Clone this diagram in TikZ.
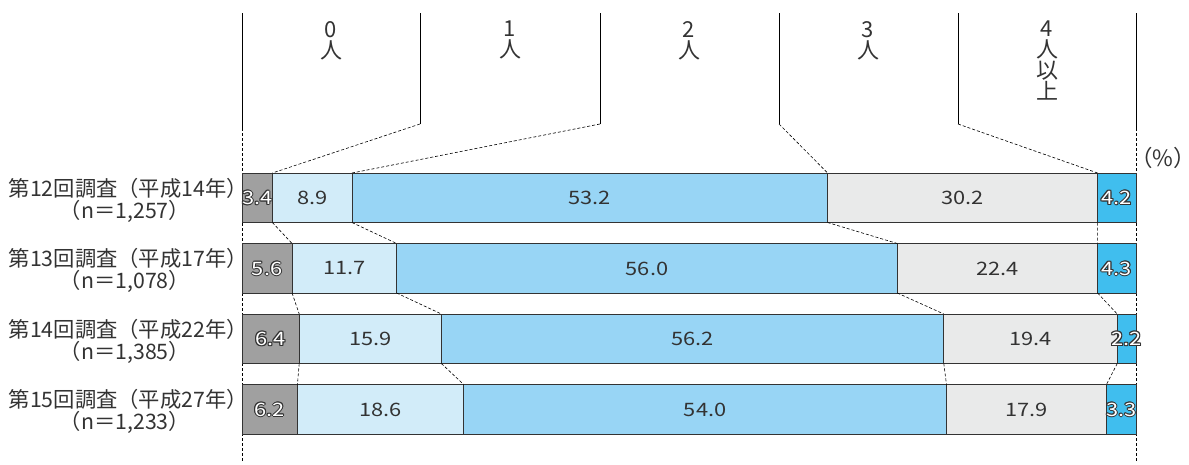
\documentclass[tikz,border=0pt]{standalone}
\usepackage{fontspec}
\setmainfont{Noto Sans CJK JP}
\newfontfamily\numfont[FakeStretch=1.18]{Noto Sans CJK JP}
\definecolor{cnone}{HTML}{A0A0A0}
\definecolor{cone}{HTML}{D2ECF9}
\definecolor{ctwo}{HTML}{98D5F5}
\definecolor{cthree}{HTML}{E9EAEA}
\definecolor{cfour}{HTML}{40BEEE}
\definecolor{ink}{HTML}{333333}
\newcommand\oshift[3]{\rlap{\kern#1\raisebox{#2}{\textcolor{ink}{#3}}}}
\newcommand\outnum[1]{\leavevmode
	\oshift{-1pt}{0pt}{#1}\oshift{1pt}{0pt}{#1}\oshift{0pt}{1pt}{#1}\oshift{0pt}{-1pt}{#1}%
	\oshift{-0.7pt}{0.7pt}{#1}\oshift{0.7pt}{0.7pt}{#1}\oshift{-0.7pt}{-0.7pt}{#1}\oshift{0.7pt}{-0.7pt}{#1}%
	\textcolor{white}{#1}}

\begin{document}
\begin{tikzpicture}[x=1pt,y=-1pt]
	\tikzstyle{every node}+=[inner sep=0pt]
	\tikzstyle{seg}=[draw=ink, line width=0.8pt]
	\tikzstyle{guide}=[black, line width=0.8pt]
	\tikzstyle{link}=[black, line width=0.6pt, dash pattern=on 3pt off 2pt]
	\tikzstyle{num}=[text=ink, font=\numfont\fontsize{18.5}{20}\selectfont]
	\tikzstyle{lbl}=[text=ink, font=\fontsize{21.3}{23}\selectfont]
	\tikzstyle{head}=[text=ink, anchor=north, align=center, font=\fontsize{22}{21}\selectfont]
	\useasboundingbox (0,0) rectangle (1189,464);
	% column heads
	\draw [guide] (242,13) -- (242,128);
	\draw [guide] (1136,13) -- (1136,128);
	\draw [guide] (420,13) -- (420,124) coordinate (g1);
	\draw [guide] (600,13) -- (600,124) coordinate (g2);
	\draw [guide] (779,13) -- (779,124) coordinate (g3);
	\draw [guide] (958,13) -- (958,124) coordinate (g4);
	\coordinate (lt) at (242,128);
	\coordinate (lb) at (242,462);
	\coordinate (rt) at (1136,128);
	\coordinate (rb) at (1136,462);
	\draw [link] (lt) -- (lb);
	\draw [link] (rt) -- (rb);
	\node [head] (h0) at (331,21) {0\\人};
	\node [head] (h1) at (510,21) {1\\人};
	\node [head] (h2) at (689,21) {2\\人};
	\node [head] (h3) at (868,21) {3\\人};
	\node [head] (h4) at (1047,21) {4\\人\\以\\上};
	\node [lbl, anchor=west, font=\fontsize{22.5}{24}\selectfont] (pct) at (1130,158) {（\%）\kern-0.5em};
	% bars
	\foreach \r/\ytop/\va/\vb/\vc/\vd/\ve in {1/173/3.4/8.9/53.2/30.2/4.2,
		2/243.5/5.6/11.7/56.0/22.4/4.3, 3/314/6.4/15.9/56.2/19.4/2.2,
		4/384.5/6.2/18.6/54.0/17.9/3.3} {
		\pgfmathsetmacro\ybot{\ytop+49.5}
		\pgfmathsetmacro\ymid{\ytop+25}
		\pgfmathsetmacro\xqa{242+\va*8.94}
		\pgfmathsetmacro\xqb{\xqa+\vb*8.94}
		\pgfmathsetmacro\xqc{\xqb+\vc*8.94}
		\pgfmathsetmacro\xqd{\xqc+\vd*8.94}
		\draw [seg, fill=cnone] (242,\ytop) rectangle (\xqa,\ybot);
		\draw [seg, fill=cone] (\xqa,\ytop) rectangle (\xqb,\ybot);
		\draw [seg, fill=ctwo] (\xqb,\ytop) rectangle (\xqc,\ybot);
		\draw [seg, fill=cthree] (\xqc,\ytop) rectangle (\xqd,\ybot);
		\draw [seg, fill=cfour] (\xqd,\ytop) rectangle (1136,\ybot);
		\node [num] (v\r-0) at ({(242+\xqa)/2},\ymid) {\outnum{\va}};
		\node [num] (v\r-1) at ({(\xqa+\xqb)/2},\ymid) {\vb};
		\node [num] (v\r-2) at ({(\xqb+\xqc)/2},\ymid) {\vc};
		\node [num] (v\r-3) at ({(\xqc+\xqd)/2},\ymid) {\vd};
		\node [num] (v\r-4) at ({(\xqd+1136)/2},\ymid) {\outnum{\ve}};
		\coordinate (p\r-1-t) at (\xqa,\ytop);
		\coordinate (p\r-1-b) at (\xqa,\ybot);
		\coordinate (p\r-2-t) at (\xqb,\ytop);
		\coordinate (p\r-2-b) at (\xqb,\ybot);
		\coordinate (p\r-3-t) at (\xqc,\ytop);
		\coordinate (p\r-3-b) at (\xqc,\ybot);
		\coordinate (p\r-4-t) at (\xqd,\ytop);
		\coordinate (p\r-4-b) at (\xqd,\ybot);
	}
	% row titles
	\foreach \r/\ytop/\k/\yr/\nval in {1/173/12/14/{1,257}, 2/243.5/13/17/{1,078},
		3/314/14/22/{1,385}, 4/384.5/15/27/{1,233}} {
		\node [lbl, anchor=east] (t\r) at (234,\ytop+15) {第\k 回調査（平成\yr 年）\kern-14pt};
		\node [lbl] (n\r) at (125,\ytop+38) {（n＝\nval）};
	}
	% dashed links
	\foreach \k in {1,...,4}
		\draw [link] (g\k) -- (p1-\k-t);
	\foreach \r/\s in {1/2,2/3,3/4}
		\foreach \k in {1,...,4}
			\draw [link] (p\r-\k-b) -- (p\s-\k-t);
\end{tikzpicture}
\end{document}
